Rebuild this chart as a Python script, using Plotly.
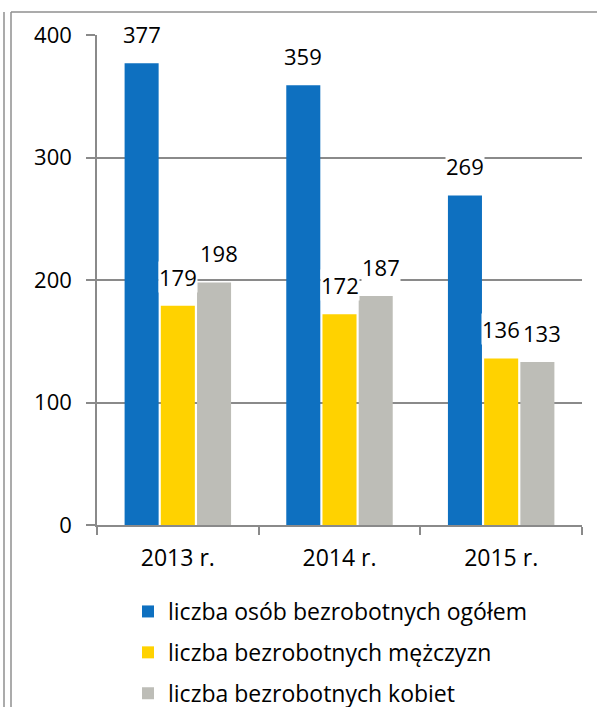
import plotly.graph_objects as go

categories = ["2013 r.", "2014 r.", "2015 r."]
series_names = [
    "liczba osób bezrobotnych ogółem",
    "liczba bezrobotnych mężczyzn",
    "liczba bezrobotnych kobiet",
]
total = [377, 359, 269]
men = [179, 172, 136]
women = [198, 187, 133]
series_values = [total, men, women]
colors = ["#0E70C0", "#FFD200", "#BDBDB7"]
y_ticks = [0, 100, 200, 300, 400]

W, H = 597, 707
ML, MR, MT, MB = 97, 15, 35, 182
PW = W - ML - MR
PH = H - MT - MB
BARGAP = 0.328
BARGROUPGAP = 0.06
FONT = "Open Sans"
FS = 22
FS_BIG = 23
GRID = "#8A8A8A"

fig = go.Figure()
for name, vals, col in zip(series_names, series_values, colors):
    fig.add_trace(go.Bar(
        x=categories, y=vals, name=name, legendgroup=name,
        marker=dict(color=col, line=dict(width=0)),
    ))

# data labels above bars
slot_px = PW / len(categories) * (1 - BARGAP) / len(series_values)
label_nudge = [0, 0, 5]
annotations = []
for si, vals in enumerate(series_values):
    for ci, v in enumerate(vals):
        annotations.append(dict(
            x=categories[ci], y=v, xref="x", yref="y",
            text=str(v), showarrow=False,
            xshift=(si - 1) * slot_px + label_nudge[si], yshift=29,
            yanchor="middle", xanchor="center",
            font=dict(family=FONT, size=FS, color="black"),
            bgcolor="white", borderpad=0,
        ))

def px_x(p):
    return (p - ML) / PW

def px_y(p):
    return (H - MB - p) / PH

line = dict(color="#8F8F8F", width=1.5)
shapes = [
    dict(type="line", xref="paper", yref="paper", x0=px_x(4), x1=px_x(4), y0=px_y(12), y1=px_y(H), line=line),
    dict(type="line", xref="paper", yref="paper", x0=px_x(11), x1=px_x(11), y0=px_y(12), y1=px_y(H), line=line),
    dict(type="line", xref="paper", yref="paper", x0=px_x(11), x1=px_x(W), y0=px_y(12), y1=px_y(12), line=line),
]

fig.update_layout(
    width=W, height=H,
    margin=dict(l=ML, r=MR, t=MT, b=MB, autoexpand=False),
    paper_bgcolor="white", plot_bgcolor="white",
    barmode="group", bargap=BARGAP, bargroupgap=BARGROUPGAP,
    font=dict(family=FONT, size=FS, color="black"),
    showlegend=True,
    legend=dict(
        orientation="v", x=px_x(128), y=px_y(590), xanchor="left", yanchor="top",
        font=dict(family=FONT, size=FS_BIG, color="black"),
        tracegroupgap=8, bgcolor="rgba(0,0,0,0)",
    ),
    annotations=annotations,
    shapes=shapes,
)
fig.update_xaxes(
    showline=True, linecolor=GRID, linewidth=1.5,
    ticks="outside", tickson="boundaries", ticklen=8, tickcolor=GRID, tickwidth=1.5,
    showgrid=False, ticklabelstandoff=12,
    tickfont=dict(family=FONT, size=FS_BIG, color="black"),
)
fig.update_yaxes(
    range=[0, 400], tickvals=y_ticks, showline=True, linecolor=GRID, linewidth=1.5,
    ticks="outside", ticklen=9, tickcolor=GRID, tickwidth=1.5,
    showgrid=True, gridcolor=GRID, gridwidth=1.5, zeroline=False,
    ticklabelstandoff=10,
    tickfont=dict(family=FONT, size=FS, color="black"),
)

fig.write_html(
    "out.html",
    config={"displayModeBar": False},
    post_script="document.body.style.margin='0px';document.body.style.overflow='hidden';",
)
